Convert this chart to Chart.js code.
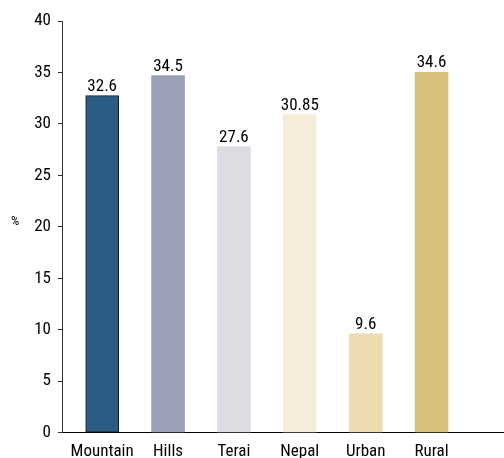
<!DOCTYPE html>
<html>
<head>
<meta charset="utf-8">
<script src="https://cdn.jsdelivr.net/npm/chart.js@4.4.1/dist/chart.umd.min.js"></script>
<style>
  html, body { margin: 0; padding: 0; overflow: hidden; background: #fff; }
  #wrap { position: relative; width: 504px; height: 471px; }
</style>
</head>
<body>
<div id="wrap"><canvas id="chart"></canvas></div>
<script>
// data
const categories = ["Mountain", "Hills", "Terai", "Nepal", "Urban", "Rural"];
const barHeights = [32.75, 34.7, 27.8, 30.9, 9.6, 35.0];
const valueLabels = ["32.6", "34.5", "27.6", "30.85", "9.6", "34.6"];
const yTicks = [0, 5, 10, 15, 20, 25, 30, 35, 40];
const barColors = ["#2b5c84", "#9aa0b8", "#dcdce3", "#f5ecda", "#eddbb2", "#d9c07a"];

const FONT = "'Roboto Condensed', 'DejaVu Sans Condensed', sans-serif";

// value labels above the bars and the "%" axis caption
const labelPlugin = {
  id: "labels",
  afterDatasetsDraw(chart) {
    const ctx = chart.ctx;
    const meta = chart.getDatasetMeta(0);
    ctx.save();
    ctx.fillStyle = "#000";
    ctx.font = "17px " + FONT;
    ctx.textAlign = "center";
    ctx.textBaseline = "alphabetic";
    meta.data.forEach((bar, i) => {
      ctx.fillText(valueLabels[i], bar.x, bar.y - 5);
    });
    ctx.font = "13px " + FONT;
    ctx.textBaseline = "middle";
    ctx.fillText("%", 15, 222);
    ctx.restore();
  }
};

new Chart(document.getElementById("chart"), {
  type: "bar",
  data: {
    datasets: [{
      data: categories.map((c, i) => ({ x: i, y: barHeights[i] })),
      backgroundColor: barColors,
      borderColor: ["#1a1a1a", "rgba(0,0,0,0)", "rgba(0,0,0,0)", "rgba(0,0,0,0)", "rgba(0,0,0,0)", "rgba(0,0,0,0)"],
      borderWidth: [1, 0, 0, 0, 0, 0],
      borderSkipped: false,
      barThickness: 33
    }]
  },
  options: {
    responsive: true,
    maintainAspectRatio: false,
    animation: false,
    layout: { padding: { top: 21, right: 0, left: 0, bottom: 0 } },
    plugins: { legend: { display: false }, tooltip: { enabled: false } },
    scales: {
      x: {
        type: "linear",
        offset: false,
        min: -0.61,
        max: 6.1,
        afterBuildTicks: (s) => { s.ticks = categories.map((c, i) => ({ value: i })); },
        ticks: {
          callback: (v) => categories[v],
          color: "#000",
          font: { family: FONT, size: 17 },
          padding: 9,
          maxRotation: 0,
          autoSkip: false
        },
        grid: { display: false, drawTicks: false },
        border: { display: true, color: "#000", width: 1 }
      },
      y: {
        min: 0,
        max: 40,
        afterBuildTicks: (s) => { s.ticks = yTicks.map(v => ({ value: v })); },
        afterFit: (s) => { s.width = 62; },
        ticks: {
          color: "#000",
          font: { family: FONT, size: 17 },
          padding: 7
        },
        grid: { drawOnChartArea: false, tickLength: 4, color: "#333" },
        border: { display: true, color: "#333", width: 1 }
      }
    }
  },
  plugins: [labelPlugin]
});
</script>
</body>
</html>
